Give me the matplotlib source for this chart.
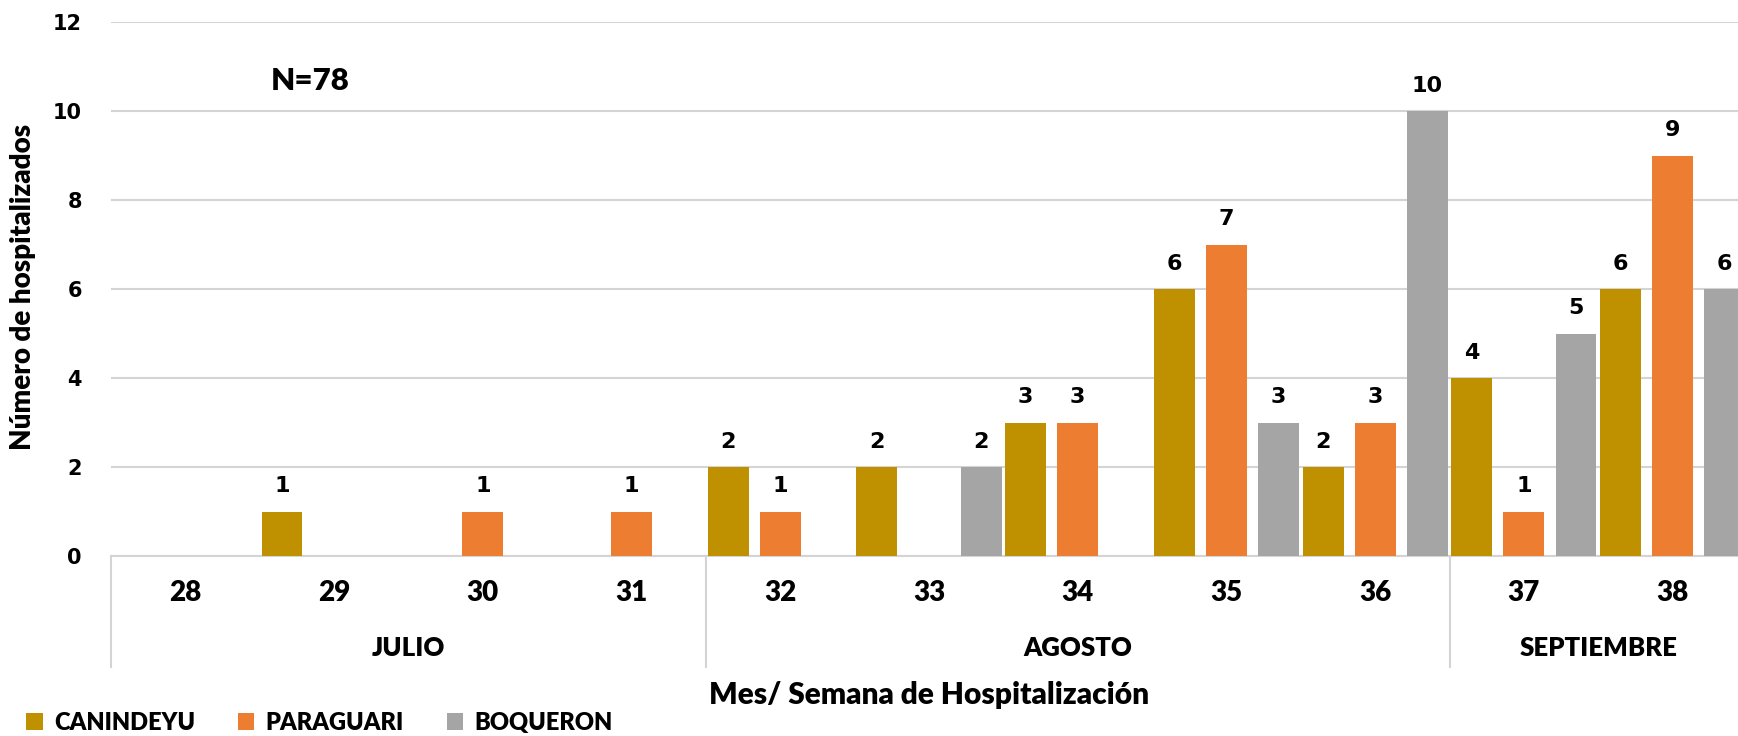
import matplotlib
matplotlib.use('Agg')
import matplotlib.pyplot as plt
import matplotlib.transforms as mtransforms
from matplotlib.patches import Patch
import numpy as np

# data
weeks = ['28', '29', '30', '31', '32', '33', '34', '35', '36', '37', '38']
months = ['JULIO', 'AGOSTO', 'SEPTIEMBRE']
month_weeks = [4, 5, 2]
series = ['CANINDEYU', 'PARAGUARI', 'BOQUERON']
canindeyu = [0, 1, 0, 0, 2, 2, 3, 6, 2, 4, 6]
paraguari = [0, 0, 1, 1, 1, 0, 3, 7, 3, 1, 9]
boqueron = [0, 0, 0, 0, 0, 2, 0, 3, 10, 5, 6]
colors = ['#BF9000', '#ED7D31', '#A5A5A5']
total = sum(canindeyu) + sum(paraguari) + sum(boqueron)

plt.rcParams['font.family'] = ['Lato', 'DejaVu Sans']
plt.rcParams['font.weight'] = 'bold'
numfont = ['DejaVu Sans']
W = 'heavy'

# create figure
fig = plt.figure(figsize=(17.38, 7.36), dpi=100)
axes = fig.add_axes([111 / 1738, 180 / 736, 1636 / 1738, 534 / 736])

x = np.arange(len(weeks))
width = 0.275
offsets = [-0.35, 0.0, 0.35]

# plot bars
for values, off, color, name in zip([canindeyu, paraguari, boqueron], offsets, colors, series):
    bars = axes.bar(x + off, values, width, color=color, linewidth=0, label=name, zorder=3)
    labels = [str(v) if v else '' for v in values]
    axes.bar_label(bars, labels=labels, padding=11, fontsize=16, fontweight='bold',
                   family=numfont)

# axis limits and grid
axes.set_xlim(-0.5, len(weeks) - 0.5)
axes.set_ylim(0, 12)
axes.set_yticks(range(0, 13, 2))
axes.yaxis.grid(True, color='#D4D4D4', linewidth=1.5, zorder=0)
axes.set_axisbelow(True)
for side in ['top', 'right', 'left']:
    axes.spines[side].set_visible(False)
axes.spines['bottom'].set_color('#D4D4D4')
axes.spines['bottom'].set_linewidth(1.5)
axes.tick_params(axis='y', length=0, pad=21, labelsize=15)
axes.tick_params(axis='x', length=0, pad=17, labelsize=20)
axes.set_xticks(x)
axes.set_xticklabels(weeks, fontweight=W)
for lbl in axes.get_yticklabels():
    lbl.set_fontweight('bold')
    lbl.set_family(numfont)

# month level of the axis
trans = mtransforms.blended_transform_factory(axes.transData, axes.transAxes)
start = -0.5
for month, n in zip(months, month_weeks):
    end = start + n
    axes.text((start + end) / 2, -0.172, month, transform=trans, ha='center', va='center',
              fontsize=18.5, fontweight=W)
    axes.plot([start, start], [0, -0.208], transform=trans, color='#D4D4D4',
              linewidth=1.5, clip_on=False)
    start = end

# labels
fig.text(929 / 1738, 1 - 695 / 736, 'Mes/ Semana de Hospitalización', ha='center', va='center',
         fontsize=21.5, fontweight=W)
fig.text(23 / 1738, 1 - 287 / 736, 'Número de hospitalizados', ha='center', va='center',
         rotation=90, fontsize=20, fontweight=W)
axes.text(0.84, 10.67, 'N={0}'.format(total), ha='center', va='center', fontsize=22.5,
          fontweight=W)

# legend
handles = [Patch(facecolor=c, edgecolor='none', label=s) for c, s in zip(colors, series)]
fig.legend(handles=handles, loc='center left', bbox_to_anchor=(26 / 1738, 1 - 723 / 736), ncol=3,
           frameon=False, handlelength=0.71, handleheight=0.71, handletextpad=0.48,
           columnspacing=1.8, borderpad=0, borderaxespad=0,
           prop={'family': 'Lato', 'weight': W, 'size': 17})

# save figure
fig.savefig('out.png', dpi=100)
